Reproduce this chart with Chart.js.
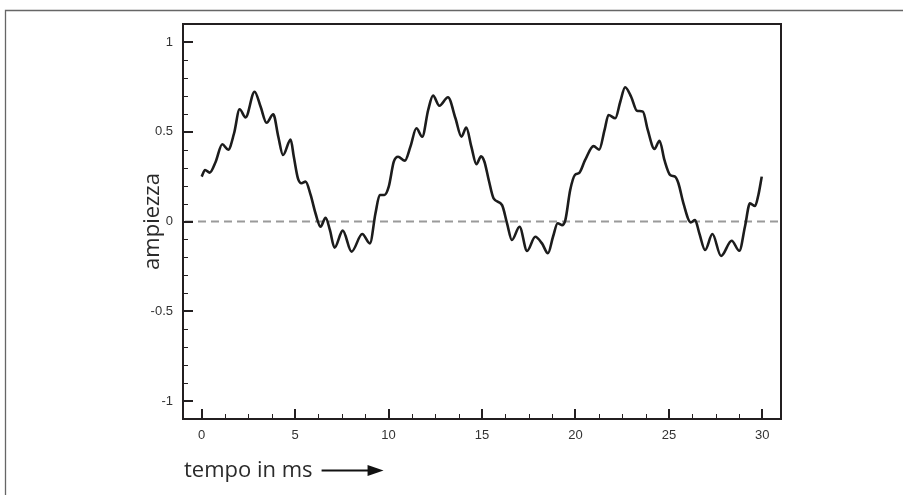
<!DOCTYPE html>
<html><head><meta charset="utf-8">
<script src="https://cdn.jsdelivr.net/npm/chart.js@4/dist/chart.umd.min.js"></script>
<style>html,body{margin:0;padding:0;background:#fff;overflow:hidden}</style>
</head><body>
<canvas id="c" width="903" height="495" style="display:block;width:903px;height:495px"></canvas>
<script>
const timeMs = [0.0,0.18,0.43,0.75,1.1,1.42,1.73,2.03,2.35,2.83,3.15,3.47,3.83,4.1,4.35,4.76,4.93,5.15,5.34,5.56,5.83,6.09,6.36,6.63,6.86,7.11,7.55,8.02,8.59,9.0,9.3,9.53,9.78,10.01,10.28,10.51,10.87,11.17,11.49,11.8,12.12,12.38,12.72,13.18,13.58,13.9,14.16,14.43,14.7,14.95,15.13,15.36,15.62,16.07,16.34,16.6,17.01,17.41,17.85,18.21,18.53,18.8,19.05,19.28,19.46,19.72,19.97,20.2,20.52,20.97,21.27,21.56,21.77,22.13,22.4,22.66,22.98,23.29,23.61,23.87,24.23,24.5,24.76,25.07,25.33,25.51,25.78,26.17,26.4,26.63,26.94,27.33,27.79,28.36,28.77,29.07,29.34,29.61,29.79,29.97];
const amplitude = [0.25,0.287,0.272,0.333,0.43,0.40,0.49,0.625,0.58,0.723,0.64,0.55,0.597,0.472,0.37,0.456,0.36,0.24,0.213,0.222,0.148,0.046,-0.029,0.021,-0.047,-0.146,-0.051,-0.168,-0.07,-0.122,0.046,0.148,0.148,0.194,0.333,0.361,0.339,0.417,0.519,0.472,0.621,0.701,0.645,0.692,0.575,0.472,0.523,0.417,0.319,0.363,0.333,0.231,0.129,0.092,-0.01,-0.103,-0.029,-0.164,-0.085,-0.122,-0.177,-0.085,-0.01,-0.02,0.008,0.175,0.259,0.27,0.343,0.42,0.40,0.51,0.593,0.575,0.667,0.748,0.695,0.617,0.612,0.51,0.404,0.45,0.343,0.259,0.25,0.213,0.101,-0.005,0.008,-0.066,-0.159,-0.07,-0.192,-0.107,-0.163,-0.029,0.101,0.086,0.148,0.25];
const xMajorTicks = [0,5,10,15,20,25,30];
const xMinorTicks = [1.25,2.5,3.75,6.25,7.5,8.75,11.25,12.5,13.75,16.25,17.5,18.75,21.25,22.5,23.75,26.25,27.5,28.75];
const yMajorTicks = [-1,-0.5,0,0.5,1];
const yMinorTicks = [-0.9,-0.8,-0.7,-0.6,-0.4,-0.3,-0.2,-0.1,0.1,0.2,0.3,0.4,0.6,0.7,0.8,0.9];
const yTitle = 'ampiezza';
const xTitle = 'tempo in ms';

const isMajor = (v, list) => list.some(m => Math.abs(m - v) < 1e-6);

const decor = {
  id: 'decor',
  beforeDatasetsDraw(chart) {
    const {ctx, chartArea: a, scales: {y}} = chart;
    const y0 = y.getPixelForValue(0);
    ctx.save();
    ctx.strokeStyle = '#9a9a9a';
    ctx.lineWidth = 2;
    ctx.setLineDash([8, 5]);
    ctx.beginPath();
    ctx.moveTo(a.left + 2, y0);
    ctx.lineTo(a.right - 3, y0);
    ctx.stroke();
    ctx.restore();
  },
  afterDraw(chart) {
    const {ctx, chartArea: a, scales: {x, y}} = chart;
    ctx.save();
    // outer frame
    ctx.strokeStyle = '#666';
    ctx.lineWidth = 1.3;
    ctx.beginPath();
    ctx.moveTo(5.5, 495);
    ctx.lineTo(5.5, 10.5);
    ctx.lineTo(903, 10.5);
    ctx.stroke();
    // plot box
    ctx.strokeStyle = '#231f20';
    ctx.lineWidth = 2;
    ctx.strokeRect(a.left, a.top, a.right - a.left, a.bottom - a.top);
    // y ticks (inward)
    yMajorTicks.forEach(v => {
      const p = Math.round(y.getPixelForValue(v));
      ctx.lineWidth = 2;
      ctx.beginPath(); ctx.moveTo(a.left, p); ctx.lineTo(a.left + 10, p); ctx.stroke();
    });
    yMinorTicks.forEach(v => {
      const p = Math.round(y.getPixelForValue(v)) + 0.5;
      ctx.lineWidth = 1;
      ctx.beginPath(); ctx.moveTo(a.left, p); ctx.lineTo(a.left + 5, p); ctx.stroke();
    });
    // x ticks (inward)
    xMajorTicks.forEach(v => {
      const p = Math.round(x.getPixelForValue(v));
      ctx.lineWidth = 2;
      ctx.beginPath(); ctx.moveTo(p, a.bottom); ctx.lineTo(p, a.bottom - 10); ctx.stroke();
    });
    xMinorTicks.forEach(v => {
      const p = Math.round(x.getPixelForValue(v)) + 0.5;
      ctx.lineWidth = 1;
      ctx.beginPath(); ctx.moveTo(p, a.bottom); ctx.lineTo(p, a.bottom - 5); ctx.stroke();
    });
    // titles
    ctx.fillStyle = '#2b2b2b';
    ctx.font = '22px "Open Sans"';
    ctx.save();
    ctx.translate(153, (a.top + a.bottom) / 2);
    ctx.rotate(-Math.PI / 2);
    ctx.textAlign = 'center';
    ctx.textBaseline = 'middle';
    ctx.fillText(yTitle, 0, 0);
    ctx.restore();
    ctx.textAlign = 'left';
    ctx.textBaseline = 'alphabetic';
    ctx.fillText(xTitle, a.left + 1, 477);
    const w = ctx.measureText(xTitle).width;
    const ax0 = a.left + 1 + w + 9;
    const ay = 470.5;
    ctx.strokeStyle = '#111';
    ctx.lineWidth = 2;
    ctx.beginPath(); ctx.moveTo(ax0, ay); ctx.lineTo(ax0 + 48, ay); ctx.stroke();
    ctx.fillStyle = '#111';
    ctx.beginPath();
    ctx.moveTo(ax0 + 46, ay - 5.5);
    ctx.lineTo(ax0 + 62, ay);
    ctx.lineTo(ax0 + 46, ay + 5.5);
    ctx.closePath();
    ctx.fill();
    ctx.restore();
  }
};

new Chart(document.getElementById('c').getContext('2d'), {
  type: 'line',
  data: {
    datasets: [{
      data: timeMs.map((t, i) => ({x: t, y: amplitude[i]})),
      borderColor: '#1c1c1c',
      borderWidth: 2.6,
      pointRadius: 0,
      fill: false,
      cubicInterpolationMode: 'monotone'
    }]
  },
  options: {
    responsive: false,
    animation: false,
    events: [],
    layout: {padding: {left: 0, top: 24, right: 122, bottom: 0}},
    plugins: {legend: {display: false}, tooltip: {enabled: false}},
    scales: {
      x: {
        type: 'linear', min: -1, max: 31,
        border: {display: false},
        grid: {display: false, drawTicks: false},
        ticks: {
          stepSize: 1.25, includeBounds: false, autoSkip: false, maxRotation: 0, padding: 9,
          color: '#333', font: {family: '"Liberation Sans", Arial', size: 13},
          callback: v => isMajor(v, xMajorTicks) ? String(Math.round(v)) : ''
        },
        afterFit: s => { s.height = 76; }
      },
      y: {
        type: 'linear', min: -1.1, max: 1.1,
        border: {display: false},
        grid: {display: false, drawTicks: false},
        ticks: {
          stepSize: 0.1, includeBounds: false, autoSkip: false, padding: 10,
          color: '#333', font: {family: '"Liberation Sans", Arial', size: 13},
          callback: v => isMajor(v, yMajorTicks) ? String(Math.round(v * 10) / 10) : ''
        },
        afterFit: s => { s.width = 183; }
      }
    }
  },
  plugins: [decor]
});
</script>
</body></html>
